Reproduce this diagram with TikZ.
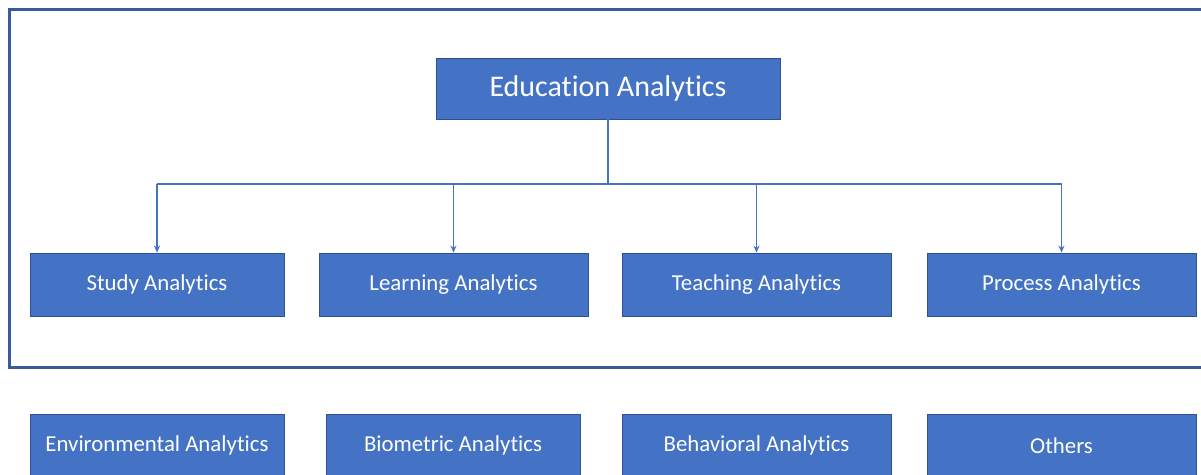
\documentclass[tikz,border=0pt]{standalone}
\usepackage{fontspec}
\setmainfont{Carlito}[Ligatures=NoCommon]
\usetikzlibrary{arrows.meta}
\definecolor{boxfill}{HTML}{4472C4}
\definecolor{boxedge}{HTML}{2F528F}
\definecolor{framecol}{HTML}{3A5A98}
\begin{document}
\begin{tikzpicture}[x=1pt,y=-1pt,
  catbox/.style={draw=boxedge,line width=0.8pt,fill=boxfill,text=white,
    minimum height=63pt,inner sep=0pt,font=\fontsize{22.8}{25}\selectfont},
  link/.style={draw=boxfill,line width=1.3pt},
  drop/.style={link,-{Stealth[length=7pt,width=6pt]}}]
\useasboundingbox (0,0) rectangle (1201,474);
\begin{scope}
\clip (0,0) rectangle (1201,474);
% outer frame around the main hierarchy
\draw[framecol,line width=3pt] (9,9) rectangle (1230,367);
% root node
\node[catbox,minimum width=344pt,minimum height=61pt,font=\fontsize{30}{34}\selectfont]
  (root) at (608,88.5) {Education Analytics};
% first level
\node[catbox,minimum width=254pt] (study) at (157,284.5) {Study Analytics};
\node[catbox,minimum width=269pt] (learn) at (453.5,284.5) {Learning Analytics};
\node[catbox,minimum width=269pt] (teach) at (756.5,284.5) {Teaching Analytics};
\node[catbox,minimum width=269pt] (proc) at (1061.5,284.5) {Process Analytics};
% further categories outside the frame
\node[catbox,minimum width=254pt] (env) at (157,445.5) {Environmental Analytics};
\node[catbox,minimum width=254pt] (bio) at (453,445.5) {Biometric Analytics};
\node[catbox,minimum width=269pt] (beh) at (756.5,445.5) {Behavioral Analytics};
\node[catbox,minimum width=269pt] (oth) at (1061.5,445.5) {Others};
% connectors
\coordinate (bus) at (608,184);
\draw[link] (root.south) -- (bus);
\draw[link] (study.north |- bus) -- (proc.north |- bus);
\draw[drop] (study.north |- bus) -- (study.north);
\draw[drop] (learn.north |- bus) -- (learn.north);
\draw[drop] (teach.north |- bus) -- (teach.north);
\draw[drop] (proc.north |- bus) -- (proc.north);
\end{scope}
\end{tikzpicture}
\end{document}
